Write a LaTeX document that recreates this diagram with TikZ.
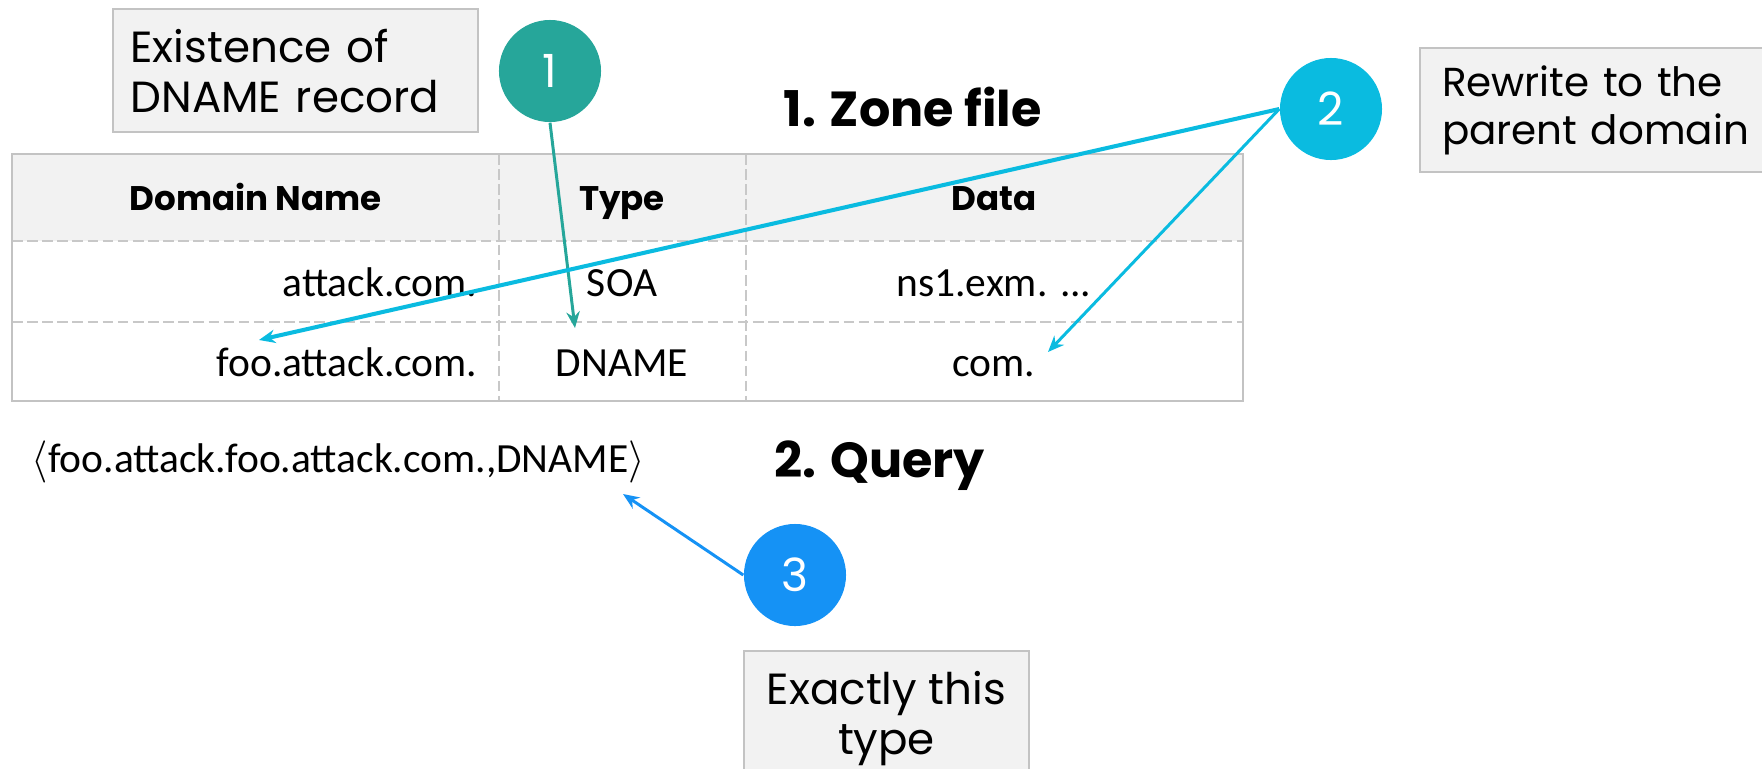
\documentclass[tikz,border=0pt]{standalone}
\usepackage{fontspec}
\setmainfont{Carlito}
\newfontfamily\labelfont{Poppins}
\usetikzlibrary{positioning,arrows.meta}

\definecolor{badgeA}{HTML}{26A69A}
\definecolor{badgeB}{HTML}{0ABBE0}
\definecolor{badgeC}{HTML}{1592F5}
\definecolor{notefill}{HTML}{F2F2F2}
\definecolor{noteline}{HTML}{C3C3C3}
\definecolor{gridline}{HTML}{C8C8C8}

\tikzset{
  notebox/.style={draw=noteline, line width=0.6pt, fill=notefill, inner xsep=0.22cm,
    font=\labelfont\fontsize{12.4}{14.2}\selectfont},
  badge/.style={circle, minimum size=1.02cm, inner sep=0pt, text=white,
    font=\labelfont\fontsize{13}{13}\selectfont},
  cell/.style={font=\fontsize{11.8}{13}\selectfont, inner sep=0pt},
  headcell/.style={font=\labelfont\bfseries\fontsize{9.7}{11}\selectfont, inner sep=0pt},
  heading/.style={font=\labelfont\bfseries\fontsize{14}{16}\selectfont, inner sep=0pt},
  pointer/.style={-{Stealth[length=4.6pt, width=3.8pt]}, line width=0.85pt},
}

\begin{document}
\begin{tikzpicture}[x=0.01cm, y=-0.01cm]
    \useasboundingbox (0,0) rectangle (1762,769);

    % zone file table
    \fill [notefill] (12,154) rectangle (1243,241);
    \draw [gridline, dashed, dash pattern=on 3pt off 1.3pt, line width=0.55pt]
        (12,241) -- (1243,241) (12,322) -- (1243,322)
        (499,154) -- (499,401) (746,154) -- (746,401);
    \draw [noteline, line width=0.7pt] (12,154) rectangle (1243,401);

    \node [headcell, anchor=base] (hname) at (255.5,210) {Domain Name};
    \node [headcell, anchor=base] (htype) at (622,210) {Type};
    \node [headcell, anchor=base] (hdata) at (994,210) {Data};

    \node [cell, anchor=base east] (name1) at (478,296) {attack.com.};
    \node [cell, anchor=base] (type1) at (622,296) {SOA};
    \node [cell, anchor=base] (data1) at (994,296) {ns1.exm. ...};
    \node [cell, anchor=base east] (name2) at (478,376) {foo.attack.com.};
    \node [cell, anchor=base] (type2) at (622,376) {DNAME};
    \node [cell, anchor=base] (data2) at (994,376) {com.};

    \node [heading, anchor=base west] (zone) at (783,126) {1. Zone file};
    \node [heading, anchor=base west] (query) at (774,477) {2. Query};
    \node [cell, anchor=base west] (qtext) at (31,472)
        {$\langle$foo.attack.foo.attack.com.,DNAME$\rangle$};

    % notes
    \node [notebox, anchor=north west, text width=3.3cm, inner xsep=0.175cm,
        minimum height=1.23cm, align=left]
        (note1) at (112,8) {Existence of\\DNAME record};
    \node [notebox, anchor=west, text width=3.3cm, minimum height=1.24cm, align=left,
        font=\labelfont\fontsize{11.5}{13.6}\selectfont]
        (note2) at (1419,110) {Rewrite to the\\parent domain};
    \node [notebox, anchor=north, minimum width=2.85cm, inner ysep=0.2cm, align=center]
        (note3) at (886.5,650) {Exactly this\\type};

    % arrow ends
    \coordinate (tip1) at (575,328);
    \coordinate (tip2) at (259,340);
    \coordinate (tip3) at (1048,352);
    \coordinate (tip4) at (623,494);

    \node [badge, fill=badgeA] (b1) at (550,71) {1};
    \node [badge, fill=badgeB] (b2) at (1331,109) {2};
    \node [badge, fill=badgeC] (b3) at (795,575) {3};

    \draw [pointer, badgeA] (b1.south) -- (tip1);
    \draw [pointer, badgeB, line width=1.15pt] (b2.west) -- (tip2);
    \draw [pointer, badgeB] (b2.west) -- (tip3);
    \draw [pointer, badgeC] (b3.west) -- (tip4);
\end{tikzpicture}
\end{document}
